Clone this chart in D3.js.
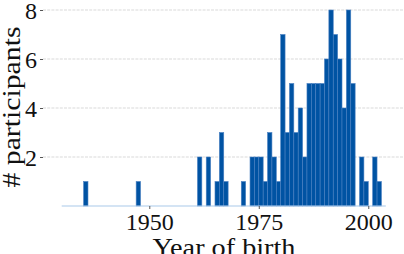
<!DOCTYPE html>
<html>
<head>
<meta charset="utf-8">
<script src="https://cdn.jsdelivr.net/npm/d3@7"></script>
<style>
  html, body { margin: 0; padding: 0; background: #fff; }
  svg { display: block; }
  svg text { font-family: "Liberation Serif", "DejaVu Serif", serif !important; fill: #111; }
</style>
</head>
<body>
<svg id="chart" width="404" height="254"></svg>
<script>
// Year of birth (1-year bins) and number of participants
const years  = [1935, 1947, 1961, 1963, 1965, 1966, 1967, 1971, 1973, 1974, 1975, 1976, 1977, 1978, 1979,
                1980, 1981, 1982, 1983, 1984, 1985, 1986, 1987, 1988, 1989, 1990, 1991, 1992, 1993, 1994,
                1995, 1996, 1998, 1999, 2001, 2002];
const counts = [1, 1, 2, 2, 1, 3, 1, 1, 2, 2, 2, 1, 3, 2, 1,
                7, 3, 5, 3, 4, 2, 5, 5, 5, 5, 6, 8, 7, 6, 4,
                8, 5, 2, 1, 2, 1];
const xTicks = [1950, 1975, 2000];
const yTicks = [2, 4, 6, 8];
const xLabel = "Year of birth";
const yLabel = "# participants";

const svg = d3.select("#chart");
const x = d3.scaleLinear().domain([1930, 2004]).range([61.7, 385.8]);
const y = d3.scaleLinear().domain([0, 8]).range([206, 10]);

// gridlines
svg.append("g").selectAll("line").data(yTicks).join("line")
  .attr("x1", 43).attr("x2", 404)
  .attr("y1", d => y(d)).attr("y2", d => y(d))
  .attr("stroke", "#d9d9d9").attr("stroke-width", 1)
  .attr("stroke-dasharray", "3,1.2");

// y axis ticks and labels
const yAxis = d3.axisLeft(y).tickValues(yTicks).tickSize(3).tickPadding(3).tickFormat(d3.format("d"));
const gy = svg.append("g").attr("transform", "translate(43,0)").call(yAxis);
gy.attr("font-family", null);
gy.select(".domain").remove();
gy.selectAll(".tick line").attr("stroke", "#555");
gy.selectAll(".tick text").style("font-size", "24px").attr("fill", "#111").attr("dy", "0.34em");

// bars
const data = years.map((yr, i) => ({ yr, c: counts[i] }));
svg.append("g").selectAll("rect").data(data).join("rect")
  .attr("x", d => x(d.yr))
  .attr("width", d => x(d.yr + 1) - x(d.yr))
  .attr("y", d => y(d.c))
  .attr("height", d => y(0) - y(d.c))
  .attr("fill", "#0053a3")
  .attr("stroke", "#4a80c2")
  .attr("stroke-width", 0.6);

// baseline
svg.append("line")
  .attr("x1", x(1930)).attr("x2", x(2004))
  .attr("y1", y(0)).attr("y2", y(0))
  .attr("stroke", "#a9c9ea").attr("stroke-width", 1.2);

// x axis ticks and labels
const xAxis = d3.axisBottom(x).tickValues(xTicks).tickSize(3).tickPadding(6).tickFormat(d3.format("d"));
const gx = svg.append("g").attr("transform", `translate(0,${y(0)})`).call(xAxis);
gx.attr("font-family", null);
gx.select(".domain").remove();
gx.selectAll(".tick line").attr("stroke", "#555");
gx.selectAll(".tick text").style("font-size", "24px").attr("fill", "#111")
  .attr("dy", null).attr("y", 24);

// axis titles
svg.append("text")
  .attr("x", 224).attr("y", 256)
  .attr("text-anchor", "middle")
  .style("font-size", "25px")
  .attr("textLength", 143).attr("lengthAdjust", "spacingAndGlyphs")
  .text(xLabel);

svg.append("text")
  .attr("transform", "translate(20,107) rotate(-90)")
  .attr("text-anchor", "middle")
  .style("font-size", "26px")
  .attr("textLength", 161).attr("lengthAdjust", "spacingAndGlyphs")
  .text(yLabel);
</script>
</body>
</html>
